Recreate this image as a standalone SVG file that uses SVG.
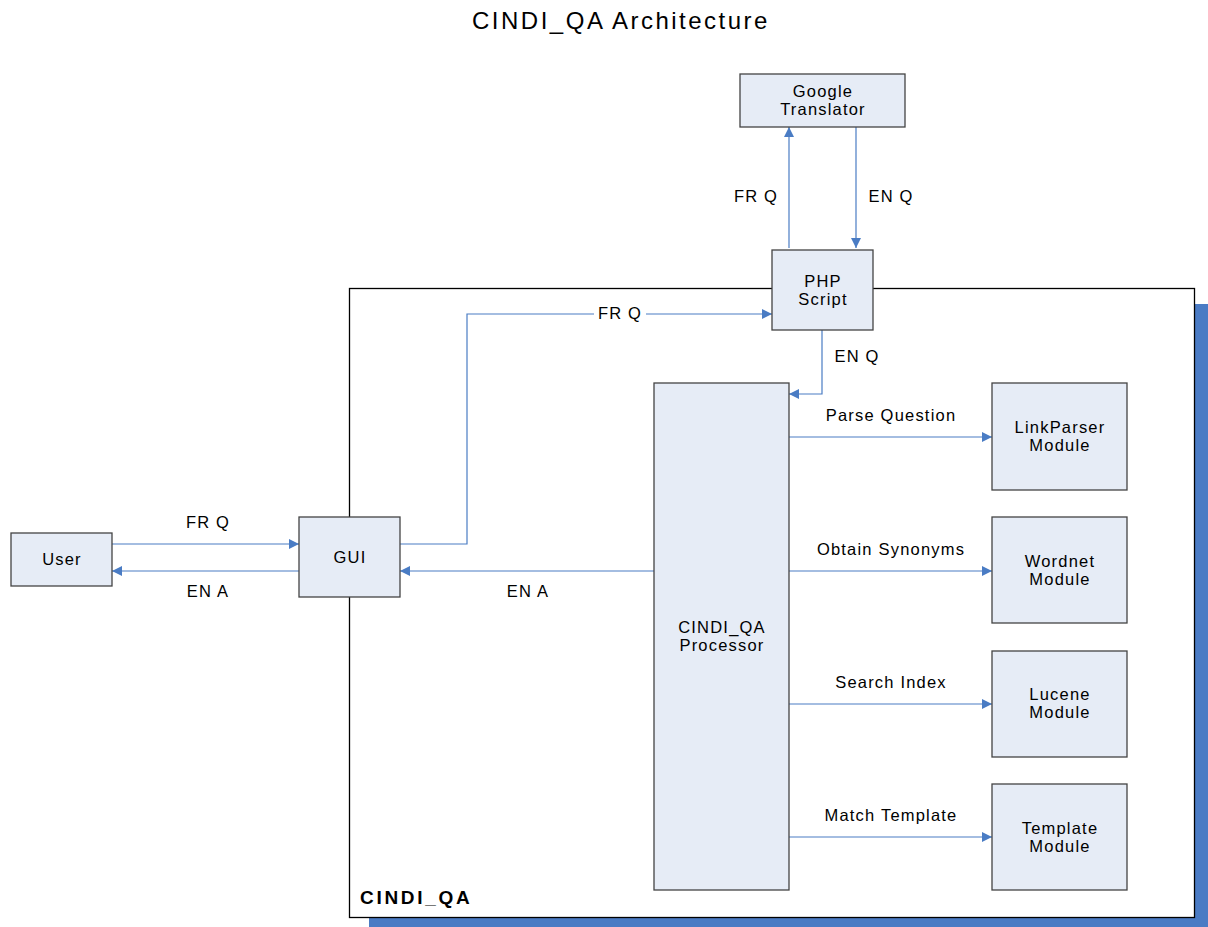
<svg xmlns="http://www.w3.org/2000/svg" width="1208" height="927" viewBox="0 0 1208 927">
<defs>
<marker id="ah" viewBox="0 0 10 10" refX="10" refY="5" markerWidth="10" markerHeight="10" markerUnits="userSpaceOnUse" orient="auto">
<path d="M0,0 L10,5 L0,10 z" fill="#4a7cc4"/>
</marker>
<style>
.n{fill:#e6ecf6;stroke:#444;stroke-width:1.3}
.t{font-family:"Liberation Sans",Arial,sans-serif;font-size:16.5px;letter-spacing:1.2px;fill:#000;text-anchor:middle}
.c{fill:none;stroke:#4a7cc4;stroke-width:1.2;marker-end:url(#ah)}
</style>
</defs>
<rect width="1208" height="927" fill="#fff"/>
<text x="621" y="29" class="t" style="font-size:24px;letter-spacing:2.5px">CINDI_QA Architecture</text>
<g id="container">
<rect x="369" y="304" width="839" height="623" fill="#4a7bc4"/>
<rect x="349.5" y="288.5" width="845" height="629" fill="#fff" stroke="#000" stroke-width="1.3"/>
<text x="360" y="904" style="font-family:'Liberation Sans',Arial,sans-serif;font-size:19px;font-weight:bold;letter-spacing:2.7px">CINDI_QA</text>
</g>
<g id="connectors">
<path class="c" d="M789,248 V127"/>
<path class="c" d="M856,127 V248"/>
<path class="c" d="M400,544 H467 V314 H772"/>
<rect x="594" y="304" width="52" height="17" fill="#fff"/>
<text x="620" y="319" class="t">FR Q</text>
<path class="c" d="M822,330 V394 H789"/>
<path class="c" d="M654,571 H400"/>
<path class="c" d="M112,544 H299"/>
<path class="c" d="M299,571 H112"/>
<path class="c" d="M789,437 H992"/>
<path class="c" d="M789,571 H992"/>
<path class="c" d="M789,704 H992"/>
<path class="c" d="M789,837 H992"/>
<text x="756" y="202" class="t">FR Q</text>
<text x="891" y="202" class="t">EN Q</text>
<text x="857" y="362" class="t">EN Q</text>
<text x="208" y="528" class="t">FR Q</text>
<text x="208" y="597" class="t">EN A</text>
<text x="528" y="597" class="t">EN A</text>
<text x="891" y="421" class="t">Parse Question</text>
<text x="891" y="555" class="t">Obtain Synonyms</text>
<text x="891" y="688" class="t">Search Index</text>
<text x="891" y="821" class="t">Match Template</text>
</g>
<g id="google"><rect class="n" x="740" y="74" width="165" height="53"/><text class="t" x="823" y="97">Google</text><text class="t" x="823" y="115">Translator</text></g>
<g id="php"><rect class="n" x="772" y="250" width="101" height="80"/><text class="t" x="823" y="287">PHP</text><text class="t" x="823" y="305">Script</text></g>
<g id="user"><rect class="n" x="11" y="533" width="101" height="53"/><text class="t" x="62" y="565">User</text></g>
<g id="gui"><rect class="n" x="299" y="517" width="101" height="80"/><text class="t" x="350" y="563">GUI</text></g>
<g id="processor"><rect class="n" x="654" y="383" width="135" height="507"/><text class="t" x="722" y="633">CINDI_QA</text><text class="t" x="722" y="651">Processor</text></g>
<g id="linkparser"><rect class="n" x="992" y="383" width="135" height="107"/><text class="t" x="1060" y="433">LinkParser</text><text class="t" x="1060" y="451">Module</text></g>
<g id="wordnet"><rect class="n" x="992" y="517" width="135" height="106"/><text class="t" x="1060" y="567">Wordnet</text><text class="t" x="1060" y="585">Module</text></g>
<g id="lucene"><rect class="n" x="992" y="651" width="135" height="106"/><text class="t" x="1060" y="700">Lucene</text><text class="t" x="1060" y="718">Module</text></g>
<g id="template"><rect class="n" x="992" y="784" width="135" height="106"/><text class="t" x="1060" y="834">Template</text><text class="t" x="1060" y="852">Module</text></g>
</svg>
